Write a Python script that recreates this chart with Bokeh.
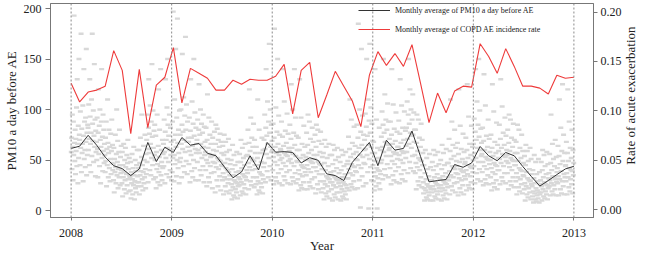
import math
from bokeh.plotting import figure
from bokeh.layouts import row
from bokeh.models import (Range1d, LinearAxis, FixedTicker, Span, Legend,
                          LegendItem, NumeralTickFormatter)
from bokeh.core.properties import value
from bokeh.embed import file_html
from bokeh.resources import INLINE

years = [2008, 2009, 2010, 2011, 2012, 2013]
pm10_ticks = [0, 50, 100, 150, 200]
rate_ticks = [0.0, 0.05, 0.10, 0.15, 0.20]

# Monthly average PM10 a day before AE (Jan 2008 .. Dec 2012)
pm10_monthly = [
    61.5, 63.7, 74.5, 64.7, 52.9, 44.4, 41.5, 34.6, 41.2, 67.4, 48.5, 62.7,
    57.5, 72.3, 64.7, 66.4, 56.7, 54.2, 43.1, 32.4, 38.2, 54.2, 40.2, 67.4,
    57.8, 58.3, 57.5, 47.1, 52.3, 49.7, 36.3, 34.6, 29.7, 47.7, 57.5, 67.4,
    44.4, 69.6, 59.8, 61.5, 78.7, 53.6, 28.4, 29.7, 30.7, 45.6, 42.8, 47.1,
    63.4, 54.2, 49.3, 57.5, 54.2, 43.6, 33.8, 24.2, 29.7, 35.6, 41.2, 43.8,
]

# Monthly average COPD AE incidence rate
copd_rate_monthly = [
    0.128, 0.109, 0.119, 0.121, 0.125, 0.161, 0.141, 0.077, 0.142, 0.083, 0.126, 0.134,
    0.164, 0.108, 0.143, 0.138, 0.133, 0.121, 0.121, 0.131, 0.127, 0.132, 0.131, 0.131,
    0.135, 0.147, 0.097, 0.141, 0.149, 0.093, 0.116, 0.140, 0.125, 0.110, 0.084, 0.136,
    0.160, 0.146, 0.158, 0.145, 0.167, 0.128, 0.088, 0.118, 0.098, 0.120, 0.125, 0.124,
    0.168, 0.155, 0.138, 0.163, 0.145, 0.125, 0.125, 0.123, 0.117, 0.136, 0.133, 0.134,
]

# Daily PM10 values a day before AE (estimated), one string per month
daily_2008 = [
    "58 72 41 95 63 30 88 55 193 67 49 80 36 71 59 102 44 130 66 27 84 52 150 75",
    "70 45 98 62 175 38 81 57 66 104 29 74 140 51 88 60 43 92 68 160 35 77 55 85",
    "82 60 105 71 45 130 93 66 38 77 110 54 175 86 69 99 48 74 145 63 90 34 79 58",
    "68 50 92 61 33 77 120 56 84 44 100 70 27 63 88 140 52 73 39 95 59 80 47 66",
    "55 38 72 49 88 24 61 45 110 67 33 57 80 42 63 29 51 76 36 59 90 47 65 40",
    "46 30 62 18 51 38 75 43 27 56 100 35 48 69 22 41 58 33 80 45 25 53 37 64",
    "40 27 58 14 45 33 66 38 21 50 30 62 43 17 36 55 25 47 70 31 41 19 52 35",
    "33 20 48 12 38 27 56 31 16 42 25 63 35 11 29 50 22 39 18 45 28 60 34 24",
    "42 28 60 16 47 35 72 39 24 53 95 31 45 20 38 64 27 50 33 75 41 22 56 36",
    "70 48 95 61 28 82 130 57 76 40 104 66 35 88 52 145 73 45 99 62 31 79 55 85",
    "50 33 74 22 58 41 95 46 28 64 120 38 53 80 25 44 140 35 60 48 30 70 42 56",
    "66 44 90 58 27 78 130 52 70 36 102 62 150 85 48 74 33 95 60 40 82 55 68 30",
]
daily_2009 = [
    "60 38 88 52 197 70 29 55 110 46 75 160 63 34 92 50 190 67 42 80 57 27 99 48",
    "75 52 100 66 33 85 155 61 78 44 112 70 38 94 58 172 80 49 105 68 36 88 63 72",
    "68 46 92 59 28 79 130 55 72 39 108 64 33 86 50 150 74 42 97 61 30 82 57 66",
    "70 48 90 60 30 80 125 57 75 40 100 66 35 86 52 62 77 44 95 63 28 83 55 68",
    "58 40 82 50 24 70 115 47 62 33 92 56 28 75 44 53 66 37 88 54 22 72 48 60",
    "55 38 78 47 18 66 85 43 59 30 81 52 24 70 41 50 63 34 76 49 20 68 45 57",
    "44 30 64 37 16 55 75 33 47 24 68 42 19 58 31 40 51 27 71 38 17 60 35 46",
    "31 20 50 26 11 41 65 23 35 15 55 30 13 45 21 28 38 18 58 27 12 48 24 33",
    "39 25 56 31 15 48 70 28 42 19 62 36 17 52 26 34 45 22 66 33 16 54 30 40",
    "55 37 80 47 21 67 120 43 59 29 92 52 25 72 40 50 63 33 86 49 23 70 45 57",
    "41 26 63 33 16 52 110 29 45 20 80 38 18 57 27 36 48 23 72 35 17 60 31 43",
    "70 47 95 61 28 82 140 56 74 39 108 66 33 88 52 165 77 44 100 63 30 85 58 69",
]
daily_2010 = [
    "60 40 86 53 26 72 180 48 63 33 102 57 29 78 45 150 66 37 94 55 27 75 50 61",
    "60 41 88 52 25 73 140 47 64 34 108 57 30 79 44 55 67 38 96 54 27 76 49 62",
    "59 40 85 51 26 71 125 47 62 33 100 56 29 77 44 140 65 37 92 54 27 74 49 60",
    "48 31 72 40 20 60 130 36 52 25 92 45 22 66 34 43 55 28 84 42 21 63 38 50",
    "53 35 77 45 21 65 95 41 57 28 88 50 24 71 38 48 60 31 82 47 22 68 43 55",
    "51 33 75 43 17 63 85 39 55 26 80 48 21 69 36 46 58 29 78 45 18 66 41 53",
    "36 22 57 29 11 47 70 26 40 17 63 34 14 52 24 32 44 19 66 31 12 55 28 38",
    "35 21 55 28 10 46 65 25 39 16 60 33 13 50 23 31 42 18 62 30 11 53 27 37",
    "30 18 48 24 10 40 60 21 33 14 55 28 12 44 19 26 36 16 58 25 11 46 22 32",
    "49 32 73 41 20 61 110 37 53 26 90 46 23 67 35 44 56 29 83 43 21 64 39 51",
    "58 38 85 50 22 72 185 45 62 30 100 55 3 78 42 160 65 34 94 53 24 75 47 60",
    "70 46 96 61 27 83 150 55 74 38 110 65 2 89 51 165 77 43 102 63 30 86 57 69",
]
daily_2011 = [
    "45 29 68 38 20 57 140 34 49 24 90 42 2 62 32 40 52 27 82 39 21 60 36 47",
    "73 50 98 63 31 85 150 58 77 41 115 68 35 90 54 66 80 46 106 65 33 88 60 71",
    "62 42 88 54 26 75 140 49 66 35 105 58 30 81 46 56 69 39 97 57 28 78 51 63",
    "63 43 89 55 27 76 130 50 67 36 104 59 31 82 47 57 70 40 98 58 29 79 52 64",
    "82 58 108 71 37 95 150 66 86 48 120 77 42 100 62 74 90 54 115 75 39 97 68 80",
    "55 37 80 47 21 67 95 43 59 29 90 52 25 72 40 50 63 33 86 49 23 70 45 57",
    "28 17 45 22 10 37 60 20 31 13 52 26 11 41 18 24 34 15 56 23 10 43 21 30",
    "30 18 48 24 10 40 60 21 33 14 55 28 12 44 19 26 36 16 58 25 11 46 22 32",
    "31 19 50 25 10 41 65 22 34 15 57 29 12 45 20 27 37 17 61 26 11 47 23 33",
    "47 30 71 39 16 59 110 35 51 24 88 44 20 65 33 42 54 27 80 41 18 62 37 49",
    "44 28 67 36 15 56 120 32 48 22 84 41 18 61 30 39 51 25 76 38 16 58 34 46",
    "48 31 72 40 20 60 125 36 52 25 93 45 22 66 34 43 55 28 84 42 21 63 38 50",
]
daily_2012 = [
    "66 44 91 57 27 78 140 52 70 37 108 62 31 85 48 150 73 41 99 60 29 81 54 67",
    "56 38 82 48 25 69 135 44 60 31 104 53 27 74 41 51 63 35 90 50 26 71 46 58",
    "50 33 75 42 20 62 125 38 54 27 98 47 23 68 36 45 57 30 87 44 21 65 40 52",
    "59 40 85 51 26 71 130 47 62 33 103 56 29 77 44 54 65 37 92 53 27 74 49 60",
    "55 37 80 47 21 67 95 43 59 29 90 52 25 72 40 50 63 33 86 49 23 70 45 57",
    "45 29 68 37 16 57 85 33 49 23 80 42 19 62 31 40 52 26 75 39 17 59 35 47",
    "34 21 54 27 10 45 65 24 38 16 59 32 13 49 22 30 41 18 62 29 11 51 26 36",
    "24 14 40 19 8 32 55 17 27 11 48 22 9 36 15 20 29 12 51 18 8 38 16 26",
    "30 18 48 24 10 40 60 21 33 14 55 28 12 44 19 26 36 16 58 25 11 46 22 32",
    "37 24 56 30 15 47 95 27 40 19 66 34 16 51 25 33 44 21 70 31 15 53 28 38",
    "42 27 64 34 15 54 110 31 46 21 82 39 17 59 29 125 49 24 75 36 16 57 33 44",
    "45 29 68 37 16 57 120 33 49 23 88 42 19 62 31 40 52 26 80 39 17 60 35 47",
]

SERIF = "Liberation Serif"

n_months = len(pm10_monthly)
span_years = years[-1] - years[0]
x_month = [years[0] + i * span_years / (n_months - 1) for i in range(n_months)]

dx, dy = [], []
for yi, block in enumerate([daily_2008, daily_2009, daily_2010, daily_2011, daily_2012]):
    for m, s in enumerate(block):
        vals = [float(v) for v in s.split()]
        n = len(vals)
        for k, v in enumerate(vals):
            dx.append(years[yi] + (m + (k + 0.5) / n) / 12.0)
            dy.append(v)

SIDE_W = 14
W, H = 638 - SIDE_W, 255
BL, BR, BT, BB = 46, 28, 3, 37
FW, FH = W - BL - BR, H - BT - BB

p = figure(width=W, height=H, output_backend="svg", toolbar_location=None,
           x_range=Range1d(2007.795, 2013.195), y_range=Range1d(-6.9, 205),
           min_border_left=BL, min_border_right=BR, min_border_top=BT,
           min_border_bottom=BB)
p.extra_y_ranges = {"rate": Range1d(-0.008, 0.2087)}
p.grid.visible = False
p.outline_line_color = "#777777"
p.background_fill_color = "white"
p.border_fill_color = "white"

p.scatter(dx, dy, marker="dash", size=5, line_width=2.4, line_color="#D8D8D8")

for yr in years:
    p.add_layout(Span(location=yr, dimension="height", line_color="#8a8a8a",
                      line_width=1, line_dash="2 2"))

r_pm = p.line(x_month, pm10_monthly, line_color="#333333", line_width=1)
r_rate = p.line(x_month, copd_rate_monthly, y_range_name="rate",
                line_color="#EE3B3B", line_width=1.1)

def style_axis(ax):
    ax.axis_line_color = "#777777"
    ax.major_tick_line_color = "#777777"
    ax.minor_tick_line_color = None
    ax.major_tick_in = 0
    ax.major_label_text_font = SERIF
    ax.major_label_text_font_size = "12px"
    ax.major_label_text_color = "#222222"
    ax.axis_label_text_font = SERIF
    ax.axis_label_text_font_size = "13px"
    ax.axis_label_text_font_style = "normal"
    ax.axis_label_text_color = "#222222"

xa = p.xaxis[0]
style_axis(xa)
xa.ticker = FixedTicker(ticks=years)
xa.major_tick_out = 3
xa.major_label_standoff = 8
xa.axis_label = "Year"
xa.axis_label_standoff = -2

ya = p.yaxis[0]
style_axis(ya)
ya.ticker = FixedTicker(ticks=pm10_ticks)
ya.major_tick_out = 5
ya.major_label_standoff = 4
ya.axis_label = "PM10 a day before AE"
ya.axis_label_standoff = 2

ra = LinearAxis(y_range_name="rate", ticker=FixedTicker(ticks=rate_ticks),
                formatter=NumeralTickFormatter(format="0.00"))
style_axis(ra)
ra.major_tick_out = 4
ra.major_label_standoff = 3
p.add_layout(ra, "right")

legend = Legend(items=[
    LegendItem(label="Monthly average of PM10 a day before AE", renderers=[r_pm]),
    LegendItem(label="Monthly average of COPD AE incidence rate", renderers=[r_rate]),
], location=(308, FH - 33))
legend.padding = 0
legend.margin = 0
legend.spacing = 7
legend.glyph_width = 32
legend.glyph_height = 12
legend.label_height = 12
legend.label_standoff = 5
legend.label_text_font = SERIF
legend.label_text_font_size = "8px"
legend.label_text_color = "#222222"
legend.background_fill_alpha = 0
legend.border_line_alpha = 0
p.add_layout(legend)

# Right-hand axis title, reading bottom-to-top as in the reference
side = figure(width=SIDE_W, height=H, output_backend="svg", toolbar_location=None,
              x_range=Range1d(0, 1), y_range=Range1d(0, 1), min_border=0,
              x_axis_location=None, y_axis_location=None)
side.grid.visible = False
side.outline_line_color = None
side.background_fill_color = "white"
side.border_fill_color = "white"
side.text(x=[0.45], y=[0.57], text=["Rate of acute exacerbation"], angle=math.pi / 2,
          text_align="center", text_baseline="middle", text_font=value(SERIF),
          text_font_size="13px", text_color="#222222")

layout = row(p, side, spacing=0)

open("out.html", "w").write(file_html(layout, INLINE))
